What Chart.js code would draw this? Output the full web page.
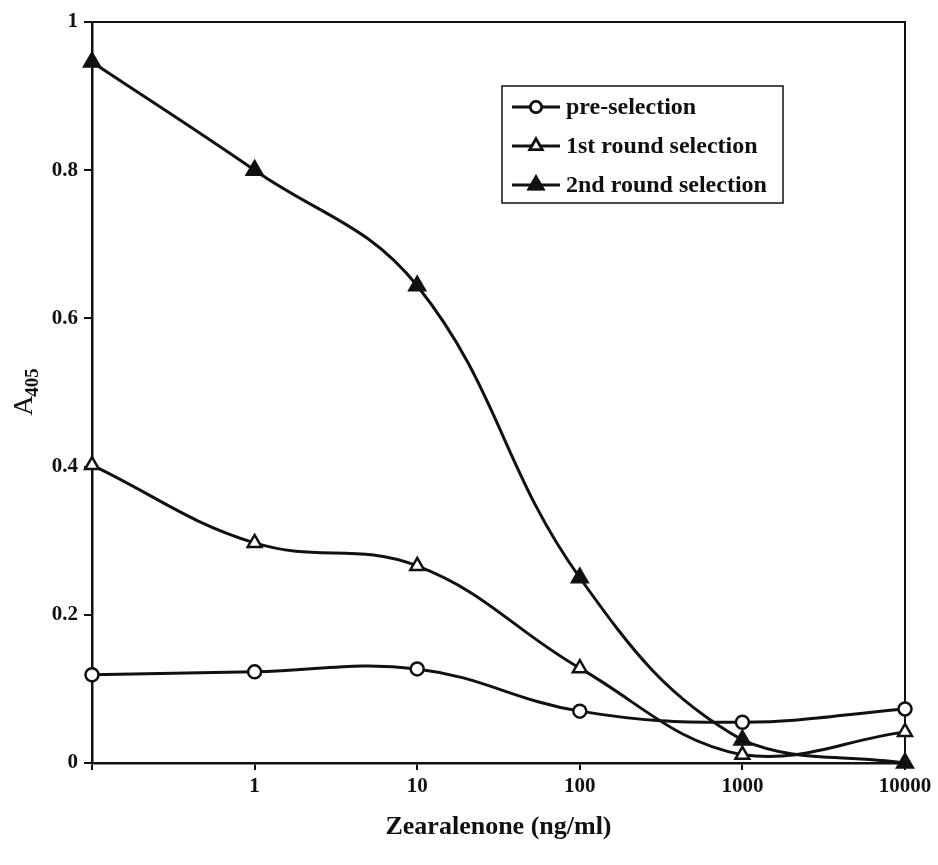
<!DOCTYPE html>
<html>
<head>
<meta charset="utf-8">
<title>Zearalenone competition ELISA</title>
<script src="https://cdn.jsdelivr.net/npm/chart.js@4/dist/chart.umd.min.js"></script>
<style>
  html, body { margin: 0; padding: 0; background: #fff; }
  #wrap { width: 938px; height: 865px; }
</style>
</head>
<body>
<div id="wrap"><canvas id="elisaChart" width="938" height="865"></canvas></div>
<script>
// Zearalenone concentrations (ng/ml); first point is the zero-toxin control
const concentrations = ['', '1', '10', '100', '1000', '10000'];

// A405 readings for each library
const preSelection = [0.119, 0.123, 0.127, 0.070, 0.055, 0.073];
const firstRound = [0.402, 0.297, 0.266, 0.128, 0.011, 0.042];
const secondRound = [0.946, 0.800, 0.644, 0.250, 0.031, 0.000];

const yTicks = [0, 0.2, 0.4, 0.6, 0.8, 1];

const FONT = '"Liberation Serif", "Times New Roman", serif';
const INK = '#111';

// box round the plot area (top and right edges)
const frame = {
    id: 'frame',
    beforeDatasetsDraw(chart) {
        const { ctx, chartArea: a } = chart;
        ctx.save();
        ctx.strokeStyle = INK;
        ctx.lineWidth = 2;
        ctx.beginPath();
        ctx.moveTo(a.left - 4, a.top);
        ctx.lineTo(a.right, a.top);
        ctx.lineTo(a.right, a.bottom);
        ctx.stroke();
        ctx.restore();
    }
};

// y title with subscript wavelength
const yTitle = {
    id: 'yTitle',
    afterDraw(chart) {
        const { ctx, chartArea: a } = chart;
        ctx.save();
        ctx.translate(32, (a.top + a.bottom) / 2 - 1);
        ctx.rotate(-Math.PI / 2);
        ctx.fillStyle = INK;
        ctx.textBaseline = 'alphabetic';
        ctx.font = '28px ' + FONT;
        const wA = ctx.measureText('A').width;
        ctx.font = 'bold 19px ' + FONT;
        const wSub = ctx.measureText('405').width;
        const x0 = -(wA + wSub) / 2;
        ctx.font = '28px ' + FONT;
        ctx.fillText('A', x0, 0);
        ctx.font = 'bold 19px ' + FONT;
        ctx.fillText('405', x0 + wA - 1, 6);
        ctx.restore();
    }
};

// legend box inside the plot
const insideLegend = {
    id: 'insideLegend',
    afterDraw(chart) {
        const { ctx } = chart;
        const box = { x: 502, y: 86, w: 281, h: 117 };
        ctx.save();
        ctx.fillStyle = '#fff';
        ctx.fillRect(box.x, box.y, box.w, box.h);
        ctx.strokeStyle = INK;
        ctx.lineWidth = 1.5;
        ctx.strokeRect(box.x, box.y, box.w, box.h);
        ctx.font = 'bold 24px ' + FONT;
        ctx.textBaseline = 'middle';
        chart.data.datasets.forEach((ds, i) => {
            const y = box.y + 21 + i * 39;
            ctx.strokeStyle = INK;
            ctx.lineWidth = 3;
            ctx.beginPath();
            ctx.moveTo(box.x + 10, y);
            ctx.lineTo(box.x + 58, y);
            ctx.stroke();
            Chart.helpers.drawPoint(ctx, {
                pointStyle: ds.pointStyle,
                radius: ds.pointRadius - 1,
                borderWidth: ds.pointBorderWidth,
                rotation: 0
            }, box.x + 34, y);
            ctx.fillStyle = ds.pointBackgroundColor;
            ctx.strokeStyle = INK;
            ctx.lineWidth = ds.pointBorderWidth;
            ctx.fill();
            ctx.stroke();
            ctx.fillStyle = INK;
            ctx.fillText(ds.label, box.x + 64, y + 1);
        });
        ctx.restore();
    }
};

function series(label, data, style, fill, radius) {
    return {
        label,
        data,
        borderColor: INK,
        borderWidth: 3,
        tension: 0.4,
        fill: false,
        clip: false,
        pointStyle: style,
        pointRadius: radius,
        pointBorderWidth: 2.5,
        pointBorderColor: INK,
        pointBackgroundColor: fill
    };
}

const ctx = document.getElementById('elisaChart').getContext('2d');
const elisaChart = new Chart(ctx, {
    type: 'line',
    data: {
        labels: concentrations,
        datasets: [
            series('pre-selection', preSelection, 'circle', '#fff', 6.5),
            series('1st round selection', firstRound, 'triangle', '#fff', 8),
            series('2nd round selection', secondRound, 'triangle', INK, 9)
        ]
    },
    options: {
        responsive: false,
        animation: false,
        layout: { padding: { left: 0, top: 22, right: 33, bottom: 0 } },
        plugins: {
            legend: { display: false },
            tooltip: { enabled: false }
        },
        scales: {
            x: {
                type: 'category',
                offset: false,
                afterFit: s => { s.height = 102; },
                border: { display: true, color: INK, width: 2.5 },
                grid: {
                    drawOnChartArea: false,
                    drawTicks: true,
                    tickLength: 7,
                    color: INK,
                    lineWidth: 2
                },
                ticks: {
                    color: INK,
                    font: { family: FONT, size: 21, weight: 'bold' },
                    padding: 4,
                    maxRotation: 0
                },
                title: {
                    display: true,
                    text: 'Zearalenone (ng/ml)',
                    color: INK,
                    font: { family: FONT, size: 26, weight: 'bold' },
                    padding: { top: 4, bottom: 22 }
                }
            },
            y: {
                min: 0,
                max: 1,
                afterFit: s => { s.width = 92; },
                afterBuildTicks: s => { s.ticks = yTicks.map(v => ({ value: v })); },
                border: { display: true, color: INK, width: 2.5 },
                grid: {
                    drawOnChartArea: false,
                    drawTicks: true,
                    tickLength: 8,
                    color: INK,
                    lineWidth: 2
                },
                ticks: {
                    color: INK,
                    font: { family: FONT, size: 21, weight: 'bold' },
                    padding: 6,
                    callback: v => String(v)
                }
            }
        }
    },
    plugins: [frame, yTitle, insideLegend]
});
</script>
</body>
</html>
